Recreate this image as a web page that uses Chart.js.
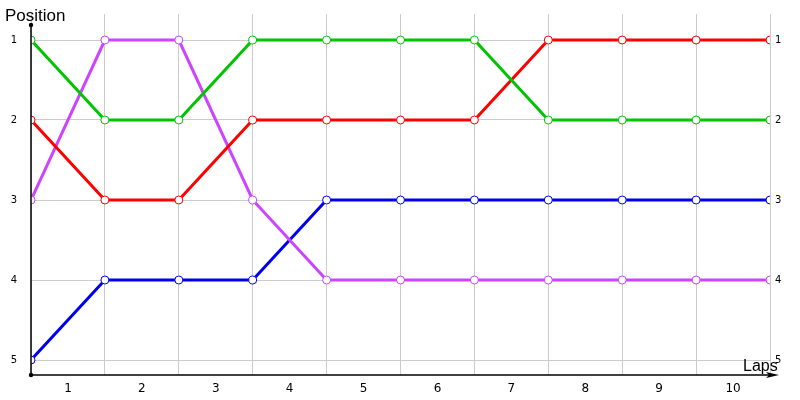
<!DOCTYPE html>
<html>
<head>
<meta charset="utf-8">
<script src="https://cdn.jsdelivr.net/npm/chart.js@4/dist/chart.umd.min.js"></script>
<style>
html,body{margin:0;padding:0;background:#fff;}
#wrap{width:800px;height:400px;position:relative;}
</style>
</head>
<body>
<div id="wrap"><canvas id="c"></canvas></div>
<script>
const laps = [0,1,2,3,4,5,6,7,8,9,10];
const lapLabels = ['1','2','3','4','5','6','7','8','9','10'];
const positions = [1,2,3,4,5];
const greenPos  = [1,2,2,1,1,1,1,2,2,2,2];
const redPos    = [2,3,3,2,2,2,2,1,1,1,1];
const purplePos = [3,1,1,3,4,4,4,4,4,4,4];
const bluePos   = [5,4,4,4,3,3,3,3,3,3,3];

function mk(vals, color){
  return {
    data: vals.map((v,i)=>({x:laps[i], y:v})),
    borderColor: color,
    backgroundColor: '#ffffff',
    borderWidth: 3,
    pointRadius: 4,
    pointHoverRadius: 4,
    pointBorderWidth: 1,
    pointBorderColor: color,
    pointBackgroundColor: '#ffffff',
    tension: 0
  };
}

const decor = {
  id:'decor',
  afterDraw(chart){
    const ctx = chart.ctx;
    const a = chart.chartArea;
    const xs = chart.scales.x;
    const x0 = xs.getPixelForValue(0);
    const yb = a.bottom;
    ctx.save();
    ctx.strokeStyle = '#000'; ctx.fillStyle = '#000'; ctx.lineWidth = 1.5;
    ctx.beginPath(); ctx.moveTo(x0, 25); ctx.lineTo(x0, yb); ctx.stroke();
    ctx.beginPath(); ctx.moveTo(x0, yb); ctx.lineTo(770, yb); ctx.stroke();
    ctx.beginPath(); ctx.moveTo(779, yb); ctx.lineTo(766, yb-3); ctx.lineTo(769, yb); ctx.lineTo(766, yb+3); ctx.closePath(); ctx.fill();
    ctx.beginPath(); ctx.arc(x0, 25, 2.2, 0, Math.PI*2); ctx.fill();
    ctx.beginPath(); ctx.arc(x0, yb, 2.2, 0, Math.PI*2); ctx.fill();
    ctx.font = '17px "Liberation Sans"';
    ctx.textBaseline = 'alphabetic';
    ctx.textAlign = 'left';
    ctx.fillText('Position', 5, 21);
    ctx.font = '16px "Liberation Sans"';
    ctx.fillText('Laps', 743, 371);
    ctx.restore();
  }
};

new Chart(document.getElementById('c'), {
  type:'line',
  data:{ datasets:[ mk(greenPos,'#00c400'), mk(redPos,'#ff0000'), mk(purplePos,'#cc44ff'), mk(bluePos,'#0000ee') ] },
  options:{
    responsive:true, maintainAspectRatio:false, animation:false,
    layout:{padding:{top:14,left:0,right:0,bottom:0}},
    plugins:{legend:{display:false}, tooltip:{enabled:false}},
    scales:{
      x:{
        type:'linear', min:0, max:10,
        afterBuildTicks(s){ const t=[]; for(let i=0;i<=20;i++) t.push({value:i/2}); s.ticks=t; },
        afterFit(s){ s.height = 25; s.paddingLeft = 0; s.paddingRight = 0; },
        border:{display:false},
        grid:{ color(c){ return Number.isInteger(c.tick.value) ? '#cccccc' : 'rgba(0,0,0,0)'; }, drawTicks:false, lineWidth:1 },
        ticks:{ padding:7, autoSkip:false, maxRotation:0, color:'#000', font:{family:'DejaVu Sans', size:12},
          callback(v){ return Number.isInteger(v) ? '' : lapLabels[Math.floor(v)]; } }
      },
      y:{
        type:'linear', reverse:true, min:0.675, max:5.1875, position:'left',
        afterBuildTicks(s){ s.ticks = positions.map(v=>({value:v})); },
        afterFit(s){ s.width = 31; s.paddingTop = 0; s.paddingBottom = 0; },
        border:{display:false},
        grid:{ color:'#cccccc', drawTicks:false },
        ticks:{ padding:14, color:'#000', font:{family:'DejaVu Sans', size:10} }
      },
      y2:{
        type:'linear', reverse:true, min:0.675, max:5.1875, position:'right',
        afterBuildTicks(s){ s.ticks = positions.map(v=>({value:v})); },
        afterFit(s){ s.width = 30; s.paddingTop = 0; s.paddingBottom = 0; },
        border:{display:false},
        grid:{ display:false, drawTicks:false },
        ticks:{ padding:5, color:'#000', font:{family:'DejaVu Sans', size:10} }
      }
    }
  },
  plugins:[decor]
});
</script>
</body>
</html>
